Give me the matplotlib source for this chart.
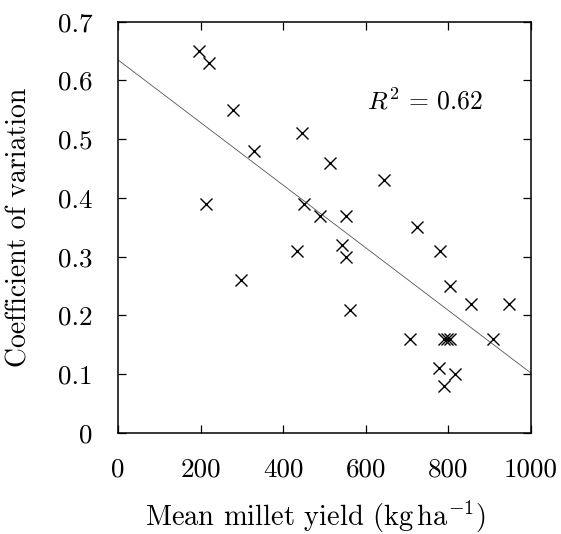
import numpy as np
import matplotlib
matplotlib.use('Agg')
import matplotlib.pyplot as plt

plt.rcParams['font.family'] = 'serif'
plt.rcParams['font.serif'] = ['cmr10']
plt.rcParams['mathtext.fontset'] = 'cm'
plt.rcParams['axes.formatter.use_mathtext'] = True

# mean yield (kg/ha) vs coefficient of variation
yield_mean = [197, 220, 278, 445, 330, 513, 645, 212, 450, 489, 553, 725, 433, 542,
              553, 780, 298, 805, 854, 947, 562, 707, 790, 797, 805, 908, 777, 816, 790]
cv = [0.65, 0.63, 0.55, 0.51, 0.48, 0.46, 0.43, 0.39, 0.39, 0.37, 0.37, 0.35, 0.31, 0.32,
      0.30, 0.31, 0.26, 0.25, 0.22, 0.22, 0.21, 0.16, 0.16, 0.16, 0.16, 0.16, 0.11, 0.10, 0.08]

# fitted regression line
fit_intercept = 0.635
fit_slope = -0.000533
r_squared = 0.62

x_ticks = [0, 200, 400, 600, 800, 1000]
x_ticklabels = ['0', '200', '400', '600', '800', '1000']
y_ticks = [0, 0.1, 0.2, 0.3, 0.4, 0.5, 0.6, 0.7]
y_ticklabels = ['0', '0.1', '0.2', '0.3', '0.4', '0.5', '0.6', '0.7']

fig = plt.figure(figsize=(5.61, 5.34), dpi=100)
ax = fig.add_axes([0.2103, 0.1891, 0.7362, 0.7703])

xs = np.array([0, 1000])
ax.plot(xs, fit_intercept + fit_slope * xs, color='#555555', lw=0.6)
ax.plot(yield_mean, cv, 'x', color='black', markersize=8.5, markeredgewidth=1.0)

ax.text(602, 0.565, r'$R^2\,=\,%.2f$' % r_squared, fontsize=18.5, va='center', ha='left')

ax.set_xlim(0, 1000)
ax.set_ylim(0, 0.7)
ax.set_xticks(x_ticks)
ax.set_xticklabels(x_ticklabels)
ax.set_yticks(y_ticks)
ax.set_yticklabels(y_ticklabels)
ax.tick_params(direction='in', length=6, width=0.9, labelsize=19.5, pad=18,
               top=True, right=True)
for s in ax.spines.values():
    s.set_linewidth(1.1)

ax.set_xlabel(r'Mean millet yield (kg$\,$ha$^{-1}$)', fontsize=20.5)
ax.set_ylabel('Coefficient of variation', fontsize=20)
ax.xaxis.set_label_coords(0.479, -0.16)
ax.yaxis.set_label_coords(-0.206, 0.5)

fig.savefig('out.png', dpi=100)
